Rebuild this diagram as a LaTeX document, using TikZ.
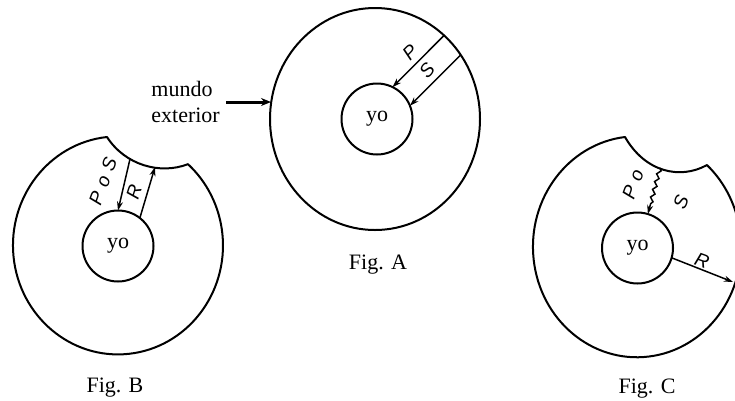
\documentclass[tikz,border=0pt]{standalone}
\usepackage{fontspec}
\setmainfont{Liberation Serif}
\newfontfamily\labfont{Liberation Sans}
\usetikzlibrary{arrows.meta,decorations.pathmorphing}
\begin{document}
\begin{tikzpicture}[x=1pt,y=1pt,
  outline/.style={line width=2pt, line join=round},
  inner/.style={circle, draw, line width=2pt, minimum size=71pt, inner sep=0pt, outer sep=0pt,
                font=\fontsize{22}{26}\selectfont},
  arr/.style={-{Stealth[length=9pt,width=6pt]}, line width=1.5pt},
  lab/.style={font=\labfont\itshape\fontsize{19}{22}\selectfont, inner sep=0pt},
  txt/.style={font=\fontsize{22}{26}\selectfont},
  figlab/.style={font=\fontsize{22}{26}\selectfont, anchor=base, inner sep=0pt}]
\useasboundingbox (0,-400) rectangle (735,0);
\clip (0,-400) rectangle (735,0);

% ---------------- Fig. A ----------------
\draw[outline] (375,-119) ellipse[x radius=105, y radius=111];
\node[inner] (yoA) at (377,-119) {yo};
\coordinate (pA) at (444,-35.5);
\coordinate (sA) at (460.7,-54.9);
\draw[arr] (pA) -- (yoA.64);
\draw[arr] (sA) -- (yoA.22);
\node[lab, rotate=45] (labPA) at (410,-52) {P};
\node[lab, rotate=50] (labSA) at (427,-70) {S};
\node[txt, align=left, anchor=east, inner sep=6pt] (mundo) at (226,-102) {mundo\\exterior};
\coordinate (mEnd) at (271,-102);
\draw[line width=3pt, -{Stealth[length=10pt,width=8pt]}] (mundo.east) -- (mEnd);
\node[figlab] (figA) at (378,-269) {Fig. A};

% ---------------- Fig. B ----------------
\draw[outline] (107,-137) arc[start angle=96, end angle=408.2, x radius=105, y radius=109]
  .. controls (160,-175) and (125,-165) .. cycle;
\node[inner] (yoB) at (118,-246) {yo};
\coordinate (nB1) at (130,-159);
\coordinate (nB2) at (155,-167);
\draw[arr] (nB1) -- (yoB.north);
\draw[arr] (yoB.52) -- (nB2);
\node[lab, rotate=70] (labPB) at (103,-181) {P\hspace{0.35em}o\hspace{0.35em}S};
\node[lab, rotate=72] (labRB) at (134,-192) {R};
\node[figlab] (figB) at (115,-392) {Fig. B};

% ---------------- Fig. C ----------------
\draw[outline] (625,-137) arc[start angle=96.6, end angle=407.7, x radius=104, y radius=110.5]
  .. controls (680,-180) and (645,-172) .. cycle;
\node[inner] (yoC) at (637.5,-248) {yo};
\coordinate (nC1) at (660,-168);
\coordinate (rC) at (733,-282);
\draw[arr, decorate, decoration={snake, amplitude=1.8pt, segment length=8pt, post length=10pt}]
  (nC1) -- (yoC.73);
\draw[arr] (yoC.-16) -- (rC);
\node[lab, rotate=70] (labPC) at (633,-184) {P\hspace{0.35em}o};
\node[lab, rotate=68] (labSC) at (681,-202) {S};
\node[lab, rotate=-20] (labRC) at (702,-261) {R};
\node[figlab] (figC) at (647,-393) {Fig. C};
\end{tikzpicture}
\end{document}
